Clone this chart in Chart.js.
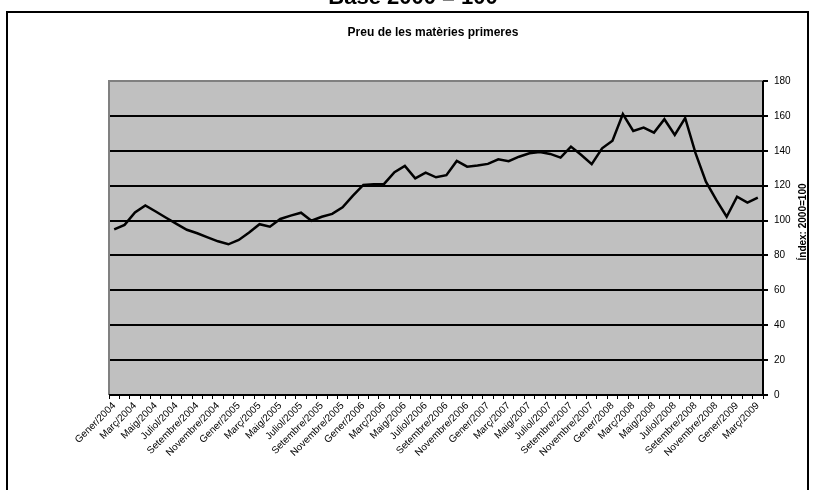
<!DOCTYPE html>
<html>
<head>
<meta charset="utf-8">
<script src="https://cdn.jsdelivr.net/npm/chart.js@4"></script>
<style>
  html, body { margin: 0; padding: 0; background: #fff; }
  #wrap { width: 814px; height: 490px; position: relative; }
</style>
</head>
<body>
<div id="wrap"><canvas id="chart" width="814" height="490"></canvas></div>
<script>
const monthNames = ["Gener", "Febrer", "Març", "Abril", "Maig", "Juny", "Juliol", "Agost", "Setembre", "Octubre", "Novembre", "Desembre"];
const years = [2004, 2005, 2006, 2007, 2008, 2009];

const values2004 = [95, 97.5, 104.6, 108.7, 105.2, 101.6, 98.1, 94.7, 92.7, 90.4, 88.1, 86.4];
const values2005 = [88.9, 93.1, 97.9, 96.5, 100.9, 102.8, 104.5, 99.9, 102.2, 103.8, 107.6, 114.3];
const values2006 = [120.4, 120.8, 121, 127.7, 131.3, 124.2, 127.5, 124.8, 126, 134.2, 130.9, 131.5];
const values2007 = [132.5, 135.1, 134, 136.6, 138.6, 139.3, 138.2, 136.1, 142.4, 137.6, 132.3, 141.4];
const values2008 = [145.8, 161, 151.4, 153.3, 150.4, 158.1, 149.1, 158.8, 138.6, 122.3, 111.8, 102.2];
const values2009 = [113.7, 110.3, 113.1];

const yTicks = [0, 20, 40, 60, 80, 100, 120, 140, 160, 180];

const values = [].concat(values2004, values2005, values2006, values2007, values2008, values2009);
const labels = [];
years.forEach((y) => {
  monthNames.forEach((m) => {
    if (labels.length < values.length) labels.push(m + "/" + y);
  });
});

// background of the plot + frame + titles
const decor = {
  id: "decor",
  beforeDraw(chart) {
    const { ctx, chartArea: a } = chart;
    ctx.save();
    ctx.fillStyle = "#fff";
    ctx.fillRect(0, 0, chart.width, chart.height);
    ctx.fillStyle = "#c0c0c0";
    ctx.fillRect(a.left, a.top, a.right - a.left, a.bottom - a.top);
    // outer frame
    ctx.strokeStyle = "#000";
    ctx.lineWidth = 2;
    ctx.strokeRect(7, 12, 801, 500);
    // big title, mostly cut off at the top
    ctx.fillStyle = "#000";
    ctx.font = "bold 22px 'Liberation Sans', Arial, sans-serif";
    ctx.textAlign = "center";
    ctx.textBaseline = "alphabetic";
    ctx.fillText("Base 2000 = 100", 413, 4);
    ctx.font = "bold 12px 'Liberation Sans', Arial, sans-serif";
    ctx.textBaseline = "middle";
    ctx.fillText("Preu de les matèries primeres", 433, 33);
    // axis title
    ctx.save();
    ctx.translate(803, 222);
    ctx.rotate(-Math.PI / 2);
    ctx.font = "bold 10px 'Liberation Sans', Arial, sans-serif";
    ctx.fillText("Índex: 2000=100", 0, 0);
    ctx.restore();
    ctx.restore();
  },
  afterDatasetsDraw(chart) {
    const { ctx, chartArea: a } = chart;
    ctx.save();
    ctx.strokeStyle = "#808080";
    ctx.lineWidth = 2;
    ctx.beginPath();
    ctx.moveTo(a.left, a.bottom);
    ctx.lineTo(a.left, a.top);
    ctx.lineTo(a.right, a.top);
    ctx.stroke();
    ctx.strokeStyle = "#000";
    ctx.beginPath();
    ctx.moveTo(a.left, a.bottom);
    ctx.lineTo(a.right, a.bottom);
    ctx.lineTo(a.right, a.top);
    ctx.stroke();
    ctx.restore();
  }
};

new Chart(document.getElementById("chart").getContext("2d"), {
  type: "line",
  data: {
    labels: labels,
    datasets: [{
      data: values,
      borderColor: "#000",
      borderWidth: 2.5,
      pointRadius: 0,
      tension: 0,
      fill: false
    }]
  },
  options: {
    responsive: false,
    animation: false,
    layout: { padding: { left: 109, top: 81, right: 0, bottom: 0 } },
    plugins: { legend: { display: false }, title: { display: false }, tooltip: { enabled: false } },
    scales: {
      x: {
        type: "category",
        offset: true,
        afterFit(s) { s.height = 95; },
        grid: {
          offset: true,
          drawOnChartArea: false,
          drawTicks: true,
          tickLength: 4,
          color: "#000",
          lineWidth: 1
        },
        border: { display: false },
        ticks: {
          autoSkip: false,
          minRotation: 45,
          maxRotation: 45,
          padding: 1,
          color: "#000",
          font: { family: "'Liberation Sans', Arial, sans-serif", size: 10 },
          callback(v, i) { return i % 2 === 0 ? labels[i] : ""; }
        }
      },
      y: {
        position: "right",
        min: 0,
        max: 180,
        afterFit(s) { s.width = 51; },
        afterBuildTicks(s) { s.ticks = yTicks.map((v) => ({ value: v })); },
        grid: {
          color: "#000",
          lineWidth: 2,
          drawTicks: true,
          tickLength: 5
        },
        border: { display: false },
        ticks: {
          padding: 6,
          color: "#000",
          font: { family: "'Liberation Sans', Arial, sans-serif", size: 10 }
        }
      }
    }
  },
  plugins: [decor]
});
</script>
</body>
</html>
